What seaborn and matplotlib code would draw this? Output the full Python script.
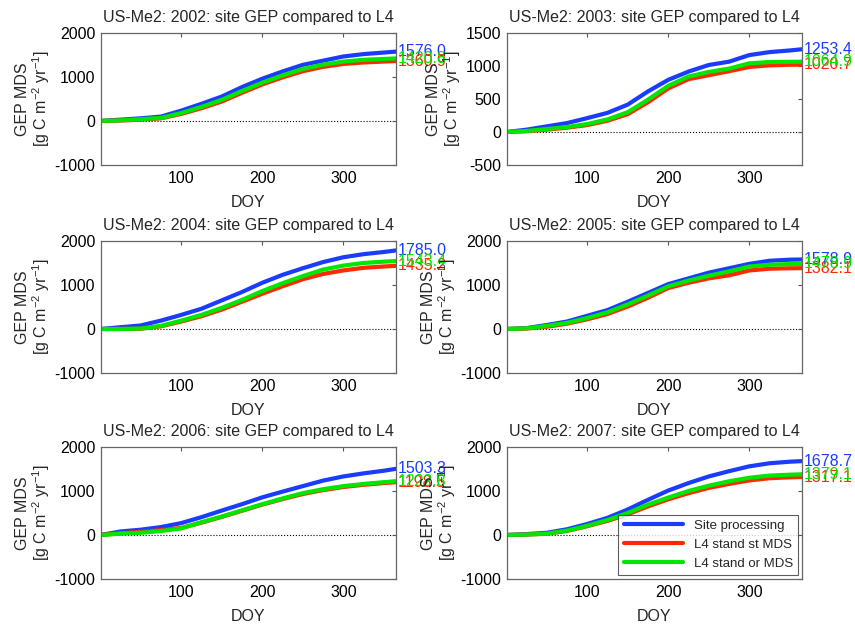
import numpy as np
import pandas as pd
import matplotlib
matplotlib.use("Agg")
import matplotlib.pyplot as plt
import seaborn as sns

# day of year sample points
doy = [1, 25, 50, 75, 100, 125, 150, 175, 200, 225, 250, 275, 300, 325, 350, 365]

years = [2002, 2003, 2004, 2005, 2006, 2007]

# cumulative GEP, site processing (blue)
site_2002 = [0, 30, 60, 100, 235, 390, 555, 770, 960, 1125, 1275, 1370, 1465, 1520, 1555, 1576.0]
site_2003 = [0, 35, 85, 135, 210, 290, 415, 615, 790, 915, 1015, 1065, 1165, 1210, 1235, 1253.4]
site_2004 = [0, 40, 80, 190, 320, 460, 650, 840, 1050, 1230, 1380, 1520, 1630, 1700, 1750, 1785.0]
site_2005 = [0, 20, 90, 170, 300, 430, 620, 820, 1020, 1150, 1280, 1380, 1480, 1550, 1575, 1578.9]
site_2006 = [0, 80, 120, 180, 270, 405, 555, 700, 855, 985, 1110, 1235, 1330, 1400, 1460, 1503.3]
site_2007 = [0, 20, 50, 130, 250, 390, 580, 800, 1010, 1180, 1330, 1450, 1560, 1630, 1665, 1678.7]

# L4 standard "st" MDS (red)
st_2002 = [0, 10, 30, 60, 160, 290, 440, 640, 830, 990, 1130, 1230, 1295, 1330, 1350, 1360.9]
st_2003 = [0, 12, 35, 65, 105, 170, 270, 450, 660, 800, 860, 920, 985, 1010, 1018, 1020.7]
st_2004 = [0, 0, 5, 60, 170, 290, 440, 620, 800, 970, 1130, 1250, 1330, 1390, 1420, 1435.2]
st_2005 = [0, 10, 50, 120, 220, 340, 510, 710, 930, 1050, 1150, 1220, 1330, 1370, 1380, 1382.1]
st_2006 = [0, 40, 70, 110, 160, 280, 410, 550, 690, 815, 930, 1020, 1090, 1140, 1180, 1198.5]
st_2007 = [0, 10, 30, 90, 200, 320, 470, 650, 810, 950, 1070, 1160, 1240, 1290, 1310, 1317.1]

# L4 standard "or" MDS (green)
or_2002 = [0, 15, 40, 70, 180, 320, 480, 680, 870, 1035, 1180, 1280, 1350, 1390, 1410, 1420.8]
or_2003 = [0, 15, 45, 75, 120, 190, 300, 490, 700, 840, 910, 960, 1040, 1060, 1063, 1064.9]
or_2004 = [0, 0, 10, 70, 190, 320, 480, 660, 860, 1040, 1200, 1350, 1440, 1500, 1530, 1543.4]
or_2005 = [0, 15, 70, 140, 250, 380, 560, 760, 970, 1100, 1210, 1310, 1420, 1460, 1475, 1478.9]
or_2006 = [0, 30, 50, 90, 150, 290, 420, 560, 700, 830, 950, 1040, 1110, 1160, 1200, 1222.8]
or_2007 = [0, 10, 30, 100, 210, 340, 500, 690, 850, 1000, 1120, 1220, 1300, 1350, 1370, 1379.1]

site = [site_2002, site_2003, site_2004, site_2005, site_2006, site_2007]
st = [st_2002, st_2003, st_2004, st_2005, st_2006, st_2007]
orr = [or_2002, or_2003, or_2004, or_2005, or_2006, or_2007]

ylims = [(-1000, 2000), (-500, 1500), (-1000, 2000), (-1000, 2000), (-1000, 2000), (-1000, 2000)]
yticks = [[-1000, 0, 1000, 2000], [-500, 0, 500, 1000, 1500],
          [-1000, 0, 1000, 2000], [-1000, 0, 1000, 2000],
          [-1000, 0, 1000, 2000], [-1000, 0, 1000, 2000]]

names = ["Site processing", "L4 stand st MDS", "L4 stand or MDS"]
colors = ["#1a3cff", "#ff2a00", "#00e600"]

sns.set_style("white")
plt.rcParams['font.family'] = ['Liberation Sans', 'DejaVu Sans']
plt.rcParams['axes.unicode_minus'] = False
plt.rcParams['mathtext.default'] = 'regular'

fig = plt.figure(figsize=(8.55, 6.29), dpi=100)

lefts = [0.1181, 0.593]
bottoms = [0.7377, 0.407, 0.0795]
w, h = 0.345, 0.2099

for i, yr in enumerate(years):
    ax = fig.add_axes([lefts[i % 2], bottoms[i // 2], w, h])
    df = pd.DataFrame({'doy': doy * 3,
                       'gep': site[i] + st[i] + orr[i],
                       'series': [names[0]] * len(doy) + [names[1]] * len(doy) + [names[2]] * len(doy)})
    sns.lineplot(data=df, x='doy', y='gep', hue='series', hue_order=names,
                 palette=colors, linewidth=3, ax=ax, legend=False)
    ax.axhline(0, color='black', linestyle=':', linewidth=0.8, zorder=0)
    ax.set_xlim(1, 365)
    ax.set_ylim(*ylims[i])
    ax.set_xticks([100, 200, 300])
    ax.set_yticks(yticks[i])
    ax.tick_params(direction='in', length=3, top=True, right=True, labelsize=11.5, colors='#555555',
                   labelcolor='black', pad=4)
    for s in ax.spines.values():
        s.set_color('#666666')
        s.set_linewidth(0.9)
    ax.set_xlabel('DOY', fontsize=11.5, labelpad=7)
    ax.set_ylabel('GEP MDS\n[g C m$^{-2}$ yr$^{-1}$]', fontsize=11.5, labelpad=2, linespacing=1.0)
    ax.set_title('US-Me2: %d: site GEP compared to L4' % yr, fontsize=11.5, pad=8)
    # final values at the right side of the panel
    for vals, c in [(site[i], colors[0]), (st[i], colors[1]), (orr[i], colors[2])]:
        ax.text(367, vals[-1], '%.1f' % vals[-1], color=c, fontsize=11.5,
                va='center', ha='left', clip_on=False)
    if i == 5:
        handles = [plt.Line2D([], [], color=c, linewidth=3) for c in colors]
        leg = ax.legend(handles, names, loc='lower right', fontsize=9.5, handlelength=4.5,
                        frameon=True, fancybox=False, borderaxespad=0.3, labelspacing=0.5)
        leg.get_frame().set_edgecolor('#333333')
        leg.get_frame().set_linewidth(0.8)

plt.savefig('out.png', dpi=100)
